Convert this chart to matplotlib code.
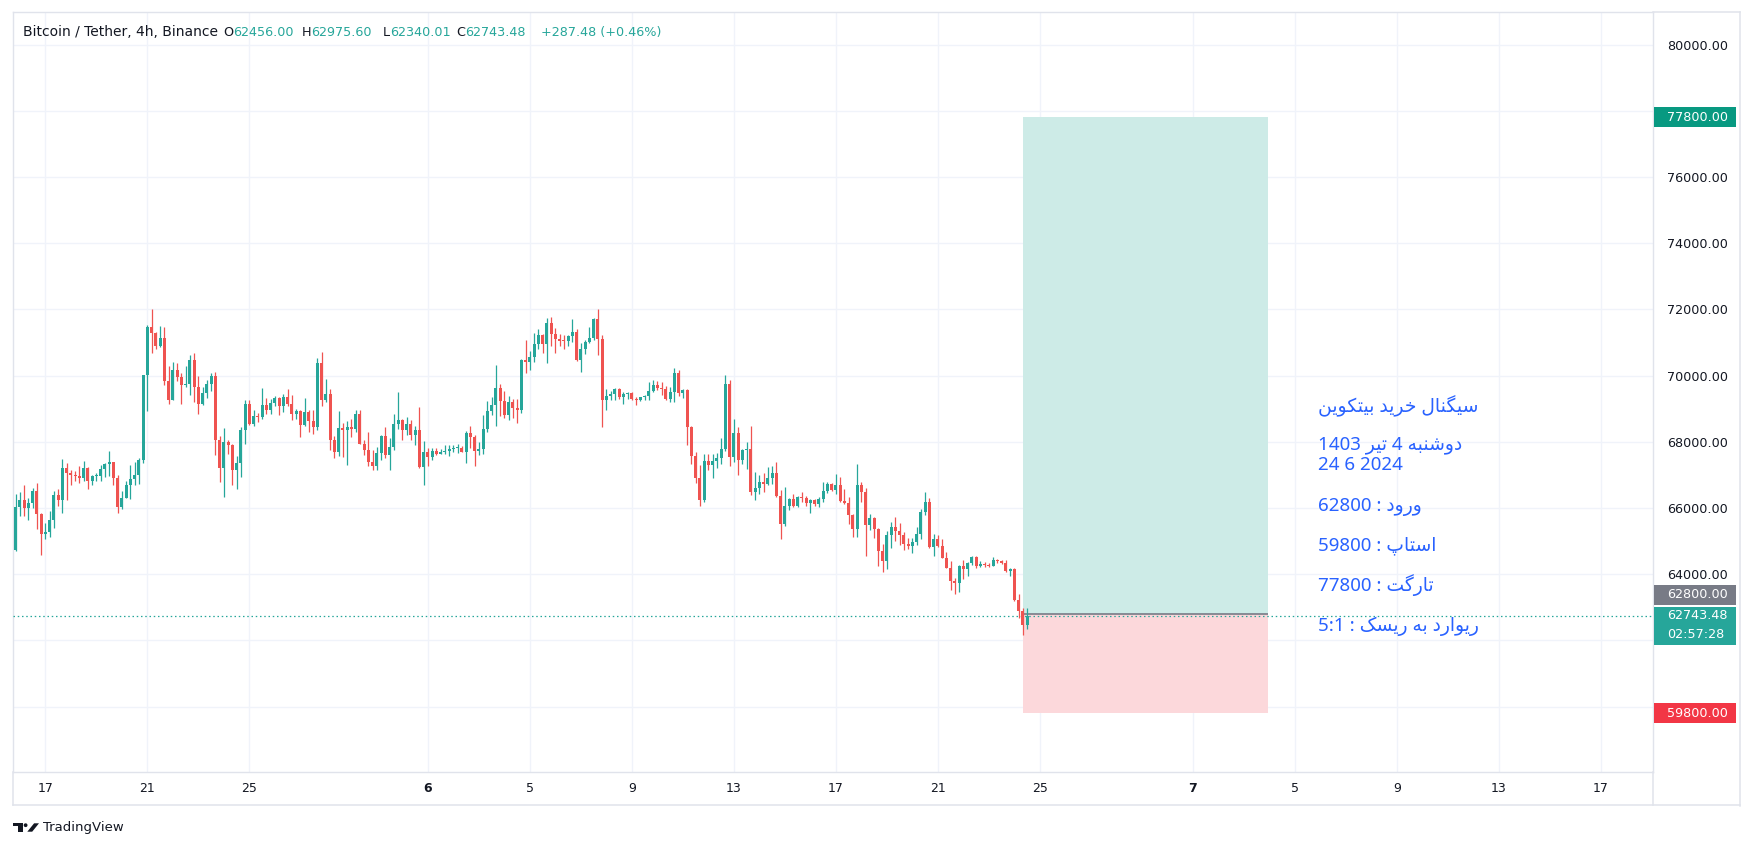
import numpy as np
import pandas as pd
import matplotlib
matplotlib.use("Agg")
import matplotlib.pyplot as plt
import matplotlib.dates as mdates
import matplotlib.transforms as mtransforms
from matplotlib.patches import Rectangle, Polygon, Circle
from matplotlib.lines import Line2D

plt.rcParams['font.family'] = ['DejaVu Sans']

# ---------------- data ----------------
symbol_title = "Bitcoin / Tether, 4h, Binance"
start_time = "2024-05-15 20:00"
bar_freq = "4h"

opens = [
    64720, 66030, 66230, 65990, 66150, 66520, 65820, 65210, 65260, 65630,
    66400, 66230, 67220, 67050, 67010, 66960, 66900, 67220, 66820, 66950,
    66970, 67190, 67340, 67380, 66900, 66040, 66310, 66700, 66860, 67010,
    67460, 70010, 71470, 71300, 70880, 71140, 69820, 69270, 70170, 69970,
    69720, 69730, 70470, 69640, 69150, 69470, 69740, 69990, 68060, 67200,
    68000, 67900, 67160, 67370, 68360, 69150, 68540, 68780, 68740, 69110,
    68950, 69170, 69330, 69070, 69350, 69130, 68850, 68940, 68520, 68910,
    68640, 68430, 70380, 69250, 69450, 68040, 67700, 68420, 68360, 68460,
    68390, 68850, 67940, 67760, 67380, 67260, 67670, 68160, 67590, 67840,
    68530, 68660, 68340, 68540, 68190, 68360, 67230, 67700, 67530, 67720,
    67640, 67680, 67730, 67790, 67800, 67820, 67700, 68270, 68130, 67730,
    67790, 68390, 68940, 69120, 69630, 69220, 68820, 69210, 69010, 68950,
    70470, 70420, 70560, 70960, 71230, 70960, 71590, 71260, 71110, 71050,
    71030, 71200, 71320, 70460, 70790, 71010, 71140, 71710, 71110, 69250,
    69390, 69450, 69600, 69360, 69450, 69480, 69300, 69250, 69340, 69390,
    69540, 69720, 69630, 69600, 69300, 69510, 70080, 69480, 69570, 68460,
    67560, 66900, 66250, 67430, 67310, 67430, 67500, 67790, 69750, 67530,
    68270, 67460, 67760, 67770, 66470, 66600, 66780, 66730, 66900, 67060,
    66370, 65520, 66060, 66280, 66060, 66340, 66310, 66160, 66250, 66120,
    66280, 66520, 66730, 66550, 66700, 66220, 66160, 65790, 65370, 66700,
    66490, 65490, 65700, 65370, 64710, 64410, 65190, 65430, 65310, 65190,
    64920, 64860, 64980, 65220, 65880, 66190, 64830, 65070, 64860, 64500,
    64200, 63780, 63720, 64260, 64140, 64350, 64530, 64260, 64320, 64290,
    64260, 64440, 64410, 64350, 64080, 64170, 63210, 62880, 62456.00,
]
highs = [
    66430, 66470, 66700, 66310, 66610, 66760, 65850, 65530, 65920, 66520,
    66580, 67490, 67350, 67140, 67130, 67280, 67430, 67250, 66980, 67070,
    67310, 67370, 67730, 67380, 67000, 66500, 66800, 67310, 67380, 67520,
    70030, 71540, 72010, 71320, 71500, 71480, 70290, 70420, 70380, 70070,
    70290, 70620, 70680, 69990, 69640, 69870, 70080, 70120, 68180, 68400,
    68040, 67940, 67560, 68460, 69270, 69250, 68950, 68870, 69630, 69330,
    69290, 69390, 69350, 69450, 69600, 69420, 69000, 68950, 69330, 68950,
    68970, 70530, 70710, 69900, 69600, 68160, 68940, 68570, 68640, 68690,
    68950, 68970, 68060, 68300, 67760, 67850, 68210, 68450, 68110, 68850,
    69510, 68690, 68750, 68660, 68480, 69060, 68030, 67810, 67800, 67810,
    67780, 67910, 67910, 67890, 67940, 67880, 68330, 68480, 68210, 68000,
    68810, 69240, 69350, 70320, 69750, 69540, 69390, 69300, 69300, 70500,
    71080, 70740, 71290, 71410, 71260, 71740, 71770, 71450, 71260, 71210,
    71220, 71710, 71410, 70990, 71060, 71470, 71730, 72010, 71230, 69600,
    69540, 69620, 69620, 69510, 69510, 69500, 69360, 69360, 69420, 69810,
    69870, 69840, 69810, 69670, 69660, 70230, 70170, 69600, 69600, 68480,
    67700, 67310, 67620, 67620, 67620, 67650, 68100, 70020, 69870, 68690,
    68430, 67780, 68000, 68490, 67090, 67000, 67060, 67240, 67270, 67390,
    66550, 66640, 66310, 66430, 66350, 66490, 66370, 66280, 66280, 66340,
    66790, 66790, 66760, 67020, 66940, 66580, 66340, 65810, 67330, 66790,
    66610, 65820, 65730, 65390, 64920, 65310, 65580, 65730, 65550, 65280,
    65100, 65100, 65430, 65970, 66490, 66310, 65220, 65190, 65070, 64680,
    64410, 63870, 64290, 64440, 64360, 64560, 64560, 64410, 64380, 64350,
    64530, 64470, 64440, 64440, 64200, 64180, 63390, 62990, 62975.60,
]
lows = [
    64700, 65750, 65750, 65650, 65990, 65350, 64590, 65050, 65120, 65380,
    66070, 65840, 66230, 66680, 66800, 66740, 66820, 66580, 66700, 66820,
    66820, 66930, 66950, 66680, 65860, 65980, 66290, 66280, 66700, 66730,
    67370, 68920, 70690, 70810, 70860, 69700, 69150, 69250, 69820, 69150,
    69640, 69420, 69210, 68850, 69120, 69320, 69520, 67610, 66770, 66320,
    67620, 66680, 66580, 66930, 67920, 68520, 68480, 68610, 68700, 68850,
    68850, 69070, 68820, 68910, 69070, 68670, 68690, 68130, 68480, 68300,
    68240, 68360, 69070, 69190, 67760, 67500, 67580, 67530, 67290, 68130,
    68290, 67920, 67610, 67260, 67140, 67160, 67460, 67500, 67140, 67760,
    68380, 68040, 68210, 68060, 67890, 67200, 66680, 67260, 67440, 67590,
    67620, 67640, 67560, 67690, 67660, 67690, 67370, 67800, 67260, 67590,
    67630, 68280, 68810, 68480, 68790, 68730, 68660, 68730, 68580, 68860,
    70090, 70170, 70420, 70810, 70680, 70390, 70880, 70680, 70900, 70800,
    70880, 71000, 70440, 70120, 70650, 70980, 71060, 70620, 68430, 68970,
    69270, 69250, 69300, 69150, 69300, 69270, 69120, 69230, 69270, 69250,
    69500, 69570, 69420, 69250, 69190, 69210, 69390, 69330, 67890, 67320,
    66740, 66050, 66170, 67160, 66900, 67200, 67340, 67710, 67260, 67400,
    66990, 67320, 67170, 66380, 66250, 66410, 66470, 66700, 66730, 66340,
    65070, 65460, 65940, 66040, 66040, 66190, 66060, 65850, 66060, 66030,
    66190, 66460, 66520, 66430, 66190, 66120, 65520, 65130, 65130, 66190,
    64560, 65340, 65100, 64260, 64050, 64170, 64800, 65010, 64890, 64740,
    64770, 64650, 64890, 65070, 65790, 64800, 64560, 64830, 64480, 64180,
    63510, 63390, 63450, 63840, 63930, 64290, 64200, 64230, 64230, 64230,
    64240, 64350, 64320, 64050, 63930, 63180, 62660, 62150, 62340.01,
]
closes = [
    66030, 66230, 65990, 66150, 66520, 65820, 65210, 65260, 65630, 66400,
    66230, 67220, 67050, 67010, 66960, 66900, 67220, 66820, 66950, 66970,
    67190, 67340, 67380, 66900, 66040, 66310, 66700, 66860, 67010, 67460,
    70010, 71470, 71300, 70880, 71140, 69820, 69270, 70170, 69970, 69720,
    69730, 70470, 69640, 69150, 69470, 69740, 69990, 68060, 67200, 68000,
    67900, 67160, 67370, 68360, 69150, 68540, 68780, 68740, 69110, 68950,
    69170, 69330, 69070, 69350, 69130, 68850, 68940, 68520, 68910, 68640,
    68430, 70380, 69250, 69450, 68040, 67700, 68420, 68360, 68460, 68390,
    68850, 67940, 67760, 67380, 67260, 67670, 68160, 67590, 67840, 68530,
    68660, 68340, 68540, 68190, 68360, 67230, 67700, 67530, 67720, 67640,
    67680, 67730, 67790, 67800, 67820, 67700, 68270, 68130, 67730, 67790,
    68390, 68940, 69120, 69630, 69220, 68820, 69210, 69010, 68950, 70470,
    70420, 70560, 70960, 71230, 70960, 71590, 71260, 71110, 71050, 71030,
    71200, 71320, 70460, 70790, 71010, 71140, 71710, 71110, 69250, 69390,
    69450, 69600, 69360, 69450, 69480, 69300, 69250, 69340, 69390, 69540,
    69720, 69630, 69600, 69300, 69510, 70080, 69480, 69570, 68460, 67560,
    66900, 66250, 67430, 67310, 67430, 67500, 67790, 69750, 67530, 68270,
    67460, 67760, 67770, 66470, 66600, 66780, 66730, 66900, 67060, 66370,
    65520, 66060, 66280, 66060, 66340, 66310, 66160, 66250, 66120, 66280,
    66520, 66730, 66550, 66700, 66220, 66160, 65790, 65370, 66700, 66490,
    65490, 65700, 65370, 64710, 64410, 65190, 65430, 65310, 65190, 64920,
    64860, 64980, 65220, 65880, 66190, 64830, 65070, 64860, 64500, 64200,
    63780, 63720, 64260, 64140, 64350, 64530, 64260, 64320, 64290, 64260,
    64440, 64410, 64350, 64080, 64170, 63210, 62880, 62456, 62743.48,
]

change_text = "+287.48 (+0.46%)"
countdown_text = "02:57:28"

entry_price = 62800
stop_price = 59800
target_price = 77800
box_start = "2024-06-24 08:00"
box_end = "2024-07-03 22:30"

price_ticks = [60000, 62000, 64000, 66000, 68000, 70000, 72000, 74000, 76000, 78000, 80000]
date_ticks = ["2024-05-17", "2024-05-21", "2024-05-25", "2024-06-01", "2024-06-05",
              "2024-06-09", "2024-06-13", "2024-06-17", "2024-06-21", "2024-06-25",
              "2024-07-01", "2024-07-05", "2024-07-09", "2024-07-13", "2024-07-17"]
date_labels = ["17", "21", "25", "6", "5", "9", "13", "17", "21", "25", "7", "5", "9", "13", "17"]
month_start_labels = ["6", "7"]

note_lines = [
    "سیگنال خرید بیتکوین",
    "دوشنبه 4 تیر 1403",
    "24 6 2024",
    "ورود : 62800",
    "استاپ : 59800",
    "تارگت : 77800",
    "ریوارد به ریسک : 5:1",
]

# ---------------- simple Persian shaping (matplotlib has no bidi) ----------------
FORMS = {
    'ا': ('\uFE8D', '\uFE8E', None, None),
    'ب': ('\uFE8F', '\uFE90', '\uFE91', '\uFE92'),
    'پ': ('\uFB56', '\uFB57', '\uFB58', '\uFB59'),
    'ت': ('\uFE95', '\uFE96', '\uFE97', '\uFE98'),
    'خ': ('\uFEA5', '\uFEA6', '\uFEA7', '\uFEA8'),
    'د': ('\uFEA9', '\uFEAA', None, None),
    'ر': ('\uFEAD', '\uFEAE', None, None),
    'س': ('\uFEB1', '\uFEB2', '\uFEB3', '\uFEB4'),
    'ش': ('\uFEB5', '\uFEB6', '\uFEB7', '\uFEB8'),
    'ک': ('\uFB8E', '\uFB8F', '\uFB90', '\uFB91'),
    'گ': ('\uFB92', '\uFB93', '\uFB94', '\uFB95'),
    'ل': ('\uFEDD', '\uFEDE', '\uFEDF', '\uFEE0'),
    'ن': ('\uFEE5', '\uFEE6', '\uFEE7', '\uFEE8'),
    'ه': ('\uFEE9', '\uFEEA', '\uFEEB', '\uFEEC'),
    'و': ('\uFEED', '\uFEEE', None, None),
    'ی': ('\uFBFC', '\uFBFD', '\uFBFE', '\uFBFF'),
}


def shape_word(w):
    out = []
    n = len(w)
    for i, ch in enumerate(w):
        f = FORMS.get(ch)
        if f is None:
            out.append(ch)
            continue
        prev = i > 0 and w[i - 1] in FORMS and FORMS[w[i - 1]][2] is not None
        nxt = i < n - 1 and w[i + 1] in FORMS and f[2] is not None
        if prev and nxt:
            out.append(f[3])
        elif prev:
            out.append(f[1])
        elif nxt:
            out.append(f[2])
        else:
            out.append(f[0])
    return ''.join(out)[::-1]


def visual(line):
    if not any(ch in FORMS for ch in line):
        return line
    toks = line.split(' ')
    return ' '.join(shape_word(t) if any(ch in FORMS for ch in t) else t
                    for t in reversed(toks))


# ---------------- figure ----------------
W, H = 1754, 850
L_PX, R_PX, T_PX, B_PX = 13, 1653, 12, 772
fig = plt.figure(figsize=(W / 100, H / 100), dpi=100)
fig.patch.set_facecolor('white')
ax = fig.add_axes([L_PX / W, 1 - B_PX / H, (R_PX - L_PX) / W, (B_PX - T_PX) / H])
ax.set_facecolor('white')

UP, DN = '#26A69A', '#EF5350'
GRID = '#F0F3FA'
BORDER = '#E0E3EB'
TXT = '#131722'

t = pd.date_range(start_time, periods=len(closes), freq=bar_freq)
x = mdates.date2num(t.to_pydatetime())
o = np.array(opens, float); h = np.array(highs, float)
l = np.array(lows, float); c = np.array(closes, float)
cols = np.where(c >= o, UP, DN)

ymin, ymax = 58022, 80983
ax.set_ylim(ymin, ymax)
x0 = mdates.date2num(pd.Timestamp("2024-05-17").to_pydatetime())
ax.set_xlim(x0 - 1.268, x0 + 63.05)
ppx = (ymax - ymin) / (B_PX - T_PX)  # price units per pixel

ax.vlines(x, l, h, colors=cols, lw=0.9, zorder=4)
body_h = np.maximum(np.abs(c - o), ppx)
ax.bar(x, body_h, bottom=np.minimum(o, c), width=0.1176, color=cols, lw=0, zorder=5)

# position tool
bs = mdates.date2num(pd.Timestamp(box_start).to_pydatetime())
be = mdates.date2num(pd.Timestamp(box_end).to_pydatetime())
ax.add_patch(Rectangle((bs, entry_price), be - bs, target_price - entry_price,
                       facecolor='#CDEBE7', edgecolor='none', zorder=2))
ax.add_patch(Rectangle((bs, stop_price), be - bs, entry_price - stop_price,
                       facecolor='#FCD8DB', edgecolor='none', zorder=2))
ax.hlines(entry_price, bs, be, color='#787B86', lw=1.2, zorder=2.5)

# current price dotted line
ax.axhline(c[-1], color=UP, lw=0.9, ls=(0, (1.2, 2.2)), zorder=3)

# grid & ticks
ax.set_yticks(price_ticks)
ax.set_yticklabels([f"{p:.2f}" for p in price_ticks])
ax.yaxis.tick_right()
ax.tick_params(axis='y', length=0, pad=10, labelsize=9.2, labelcolor=TXT)
xt = [mdates.date2num(pd.Timestamp(d).to_pydatetime()) for d in date_ticks]
ax.set_xticks(xt)
ax.set_xticklabels(date_labels)
ax.tick_params(axis='x', length=0, pad=7.5, labelsize=9, labelcolor=TXT)
for lab in ax.get_xticklabels():
    if lab.get_text() in month_start_labels:
        lab.set_fontweight('bold')
ax.grid(True, color=GRID, lw=1)
ax.set_axisbelow(True)
for sp in ax.spines.values():
    sp.set_color(BORDER)
    sp.set_linewidth(1.0)

# price-axis labels
trans = mtransforms.blended_transform_factory(fig.transFigure, ax.transData)
LX0, LX1, TX = 1654 / W, 1736 / W, 1667 / W


def price_label(price, text, color, dy_px=0, up_px=10, down_px=10, text_color='white'):
    tr = trans + mtransforms.ScaledTranslation(0, dy_px / 100, fig.dpi_scale_trans)
    ax.add_patch(Rectangle((LX0, price - down_px * ppx), LX1 - LX0, (up_px + down_px) * ppx,
                           transform=tr, facecolor=color, edgecolor='none',
                           clip_on=False, zorder=20))
    ax.text(TX, price, text, transform=tr, color=text_color, va='center', ha='left',
            fontsize=9.2, clip_on=False, zorder=21)
    return tr


price_label(target_price, f"{target_price:.2f}", '#089981')
price_label(entry_price, f"{entry_price:.2f}", '#787B86', dy_px=19)
price_label(stop_price, f"{stop_price:.2f}", '#F23645')
tr_cur = price_label(c[-1], f"{c[-1]:.2f}", UP, up_px=9, down_px=29)
ax.text(TX, c[-1], countdown_text,
        transform=tr_cur + mtransforms.ScaledTranslation(0, -19 / 100, fig.dpi_scale_trans),
        color='white', va='center', ha='left', fontsize=9.2, clip_on=False, zorder=21)

# pixel transform for frame / decorations (origin top-left)
tpx = mtransforms.Affine2D().scale(1 / W, -1 / H).translate(0, 1) + fig.transFigure


def fline(xs, ys, lw=1.1, color=BORDER):
    fig.add_artist(Line2D(xs, ys, transform=tpx, color=color, lw=lw))


fline([1740, 1740], [12, 806])
fline([13, 1740], [805, 805])
fline([1653, 1740], [12, 12])
fline([1653, 1653], [772, 805])
fline([13, 13], [772, 805])

# header
fig.text(23, 32.5, symbol_title, transform=tpx, color=TXT, fontsize=10, va='center', ha='left')
hdr = [("O", 233, opens[-1]), ("H", 311, highs[-1]), ("L", 390, lows[-1]), ("C", 465, closes[-1])]
for letter, px, val in hdr:
    fig.text(px, 32.5, letter, transform=tpx, color=TXT, fontsize=9.2, va='center', ha='right')
    fig.text(px, 32.5, f"{val:.2f}", transform=tpx, color=UP, fontsize=9.2, va='center', ha='left')
fig.text(541, 32.5, change_text, transform=tpx, color=UP, fontsize=9.2, va='center', ha='left')

# Persian note
note_y = [406, 445.5, 465, 507, 545.5, 585, 626.5]
for line, yy in zip(note_lines, note_y):
    fig.text(1318, yy, visual(line), transform=tpx, color='#2962FF', fontsize=13.5,
             family=['Noto Sans', 'DejaVu Sans'], va='center', ha='left')

# TradingView logo
fig.add_artist(Rectangle((13.3, 823.3), 9.4, 2.9, transform=tpx, color=TXT, lw=0))
fig.add_artist(Rectangle((18.3, 823.3), 4.4, 8.4, transform=tpx, color=TXT, lw=0))
fig.add_artist(Circle((25.6, 825.2), 1.9, transform=tpx, color=TXT, lw=0))
fig.add_artist(Polygon([(27.3, 831.7), (32.2, 831.7), (39.0, 823.3), (34.1, 823.3)],
                       closed=True, transform=tpx, color=TXT, lw=0))
fig.text(43, 827.5, "TradingView", transform=tpx, color=TXT, fontsize=9.5, va='center', ha='left')

fig.savefig("out.png", dpi=100, facecolor='white')
